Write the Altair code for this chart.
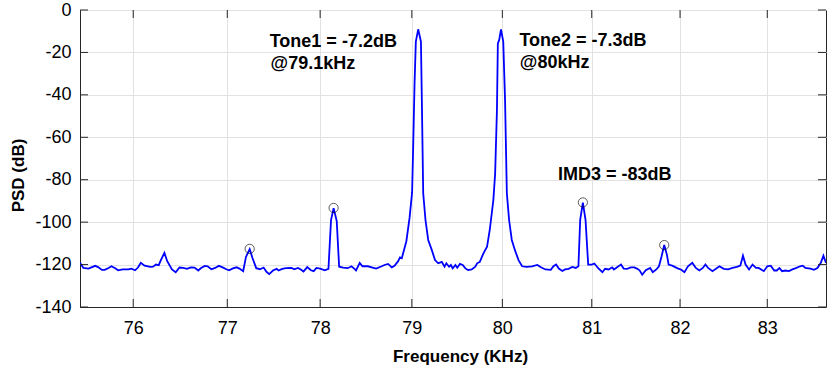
import altair as alt
import pandas as pd

# ---- data ----
freq = [75.44, 75.476, 75.53, 75.56, 75.60, 75.63, 75.67, 75.70, 75.74, 75.77,
        75.81, 75.84, 75.89, 75.95, 75.98, 76.02, 76.05, 76.08, 76.12, 76.18,
        76.21, 76.24, 76.27, 76.29, 76.33, 76.36, 76.41, 76.45, 76.49, 76.53,
        76.57, 76.61, 76.65, 76.69, 76.72, 76.76, 76.79, 76.83, 76.87, 76.91,
        76.95, 76.99, 77.02, 77.06, 77.10, 77.13, 77.17, 77.20, 77.24, 77.27,
        77.31, 77.35, 77.39, 77.42, 77.45, 77.49, 77.53, 77.55, 77.59, 77.63,
        77.69, 77.72, 77.76, 77.79, 77.82, 77.86, 77.90, 77.93, 77.96, 78.00,
        78.05, 78.09, 78.118, 78.146, 78.18, 78.206, 78.25, 78.30, 78.34, 78.37,
        78.39, 78.43, 78.46, 78.52, 78.57, 78.61, 78.67, 78.70, 78.74, 78.78,
        78.81, 78.85, 78.87, 78.89, 78.94, 78.975, 79.003, 79.014, 79.03, 79.044,
        79.07, 79.10, 79.11, 79.125, 79.15, 79.18, 79.22, 79.255, 79.29, 79.33,
        79.36, 79.38, 79.41, 79.43, 79.45, 79.48, 79.50, 79.53, 79.56, 79.59,
        79.62, 79.66, 79.70, 79.72, 79.75, 79.79, 79.83, 79.86, 79.90, 79.92,
        79.94, 79.95, 79.965, 79.985, 80.01, 80.03, 80.05, 80.075, 80.105, 80.14,
        80.18, 80.22, 80.27, 80.33, 80.39, 80.43, 80.48, 80.54, 80.57, 80.60,
        80.63, 80.67, 80.70, 80.74, 80.78, 80.82, 80.85, 80.87, 80.90, 80.93,
        80.96, 81.00, 81.03, 81.07, 81.12, 81.15, 81.19, 81.23, 81.25, 81.29,
        81.31, 81.33, 81.36, 81.40, 81.44, 81.48, 81.51, 81.54, 81.57, 81.61,
        81.66, 81.69, 81.73, 81.76, 81.79, 81.82, 81.85, 81.87, 81.91, 81.95,
        81.98, 82.01, 82.05, 82.09, 82.14, 82.18, 82.22, 82.26, 82.29, 82.32,
        82.37, 82.41, 82.45, 82.50, 82.55, 82.60, 82.65, 82.69, 82.72, 82.75,
        82.79, 82.83, 82.87, 82.90, 82.96, 83.00, 83.04, 83.08, 83.11, 83.14,
        83.17, 83.21, 83.25, 83.29, 83.33, 83.38, 83.41, 83.44, 83.50, 83.54,
        83.58, 83.62, 83.65, 83.68]

psd = [-119.2, -121.6, -121.9, -121.3, -120.6, -121.2, -122.5, -122.5, -121.6, -120.8,
       -121.7, -122.7, -122.3, -122.3, -121.9, -122.7, -121.4, -119.2, -120.5, -121.1,
       -121.0, -120.0, -120.3, -118.1, -114.5, -118.4, -122.3, -123.6, -121.4, -121.6,
       -122.0, -121.3, -121.4, -122.8, -121.6, -120.6, -120.8, -122.2, -121.6, -120.6,
       -121.3, -122.2, -122.7, -121.8, -121.3, -121.9, -123.1, -116.4, -112.7, -116.9,
       -121.7, -122.2, -121.4, -123.4, -124.5, -122.8, -122.0, -122.8, -122.0, -121.7,
       -121.6, -122.2, -121.6, -122.3, -123.3, -121.2, -122.7, -123.1, -121.6, -121.9,
       -122.7, -122.0, -99.0, -93.4, -99.5, -121.0, -121.4, -121.7, -120.8, -121.9,
       -122.8, -119.2, -120.8, -120.8, -121.4, -121.9, -120.8, -120.2, -119.7, -121.3,
       -120.6, -118.4, -116.6, -117.0, -109.0, -98.0, -86.0, -66.0, -34.5, -14.9,
       -9.1, -14.9, -42.4, -86.4, -99.0, -108.4, -113.2, -117.9, -119.4, -118.7,
       -121.0, -119.4, -121.0, -120.2, -121.8, -120.2, -121.5, -119.7, -120.2, -121.8,
       -122.6, -122.3, -121.0, -119.4, -118.7, -114.7, -111.6, -103.7, -89.6, -77.0,
       -47.0, -15.7, -14.1, -9.1, -14.9, -42.4, -86.4, -99.0, -108.4, -113.2,
       -117.9, -120.8, -121.1, -120.8, -120.2, -121.3, -122.3, -122.5, -120.8, -120.0,
       -121.9, -123.0, -122.3, -122.0, -121.1, -121.6, -120.8, -98.9, -90.8, -98.9,
       -120.0, -120.0, -119.5, -121.6, -123.6, -122.0, -122.3, -121.3, -122.3, -121.1,
       -120.5, -120.0, -121.9, -122.0, -121.3, -121.3, -121.9, -122.7, -124.8, -122.7,
       -121.6, -123.6, -122.3, -120.8, -116.1, -110.8, -115.3, -120.0, -120.5, -121.3,
       -121.9, -122.3, -123.6, -120.8, -119.2, -121.6, -122.8, -121.6, -120.0, -121.6,
       -123.1, -122.0, -120.8, -122.0, -122.3, -121.6, -121.1, -120.5, -115.8, -120.0,
       -122.3, -120.0, -121.6, -121.6, -123.1, -120.8, -120.5, -122.8, -122.8, -121.6,
       -123.1, -122.8, -123.1, -122.3, -121.7, -120.8, -120.5, -121.6, -121.9, -122.5,
       -121.6, -119.2, -115.8, -119.2]

mark_freq = [77.24, 78.146, 80.90, 81.82]
mark_psd = [-112.6, -93.3, -90.7, -110.8]

ann_text = ["Tone1 = -7.2dB", "@79.1kHz", "Tone2 = -7.3dB", "@80kHz", "IMD3 = -83dB"]
ann_freq = [77.455, 77.465, 80.19, 80.195, 80.62]
ann_psd = [-17.4, -27.6, -17.0, -27.2, -80.2]

x_ticks = [76, 77, 78, 79, 80, 81, 82, 83]
y_ticks = [-140, -120, -100, -80, -60, -40, -20, 0]

# ---- chart ----
W, H = 746, 297
FONT = "Liberation Sans"
INK = "#262626"

df = pd.DataFrame({"f": freq, "p": psd})
dm = pd.DataFrame({"f": mark_freq, "p": mark_psd})
da = pd.DataFrame({"t": ann_text, "f": ann_freq, "p": ann_psd})
dxt = pd.DataFrame({"f": x_ticks})
dyt = pd.DataFrame({"p": y_ticks})

xscale = alt.Scale(type="log", domain=[75.44, 83.68], nice=False, zero=False)
yscale = alt.Scale(domain=[-140, 0], nice=False, zero=False)

xaxis = alt.Axis(values=x_ticks, title="Frequency (KHz)", labelExpr="datum.value + ''",
                 labelPadding=12, titlePadding=11, titleX=380)
yaxis = alt.Axis(values=y_ticks, title="PSD (dB)", labelExpr="datum.value + ''",
                 labelPadding=9, titlePadding=7, titleY=165)


def X():
    return alt.X("f:Q", scale=xscale, axis=xaxis)


def Y():
    return alt.Y("p:Q", scale=yscale, axis=yaxis)


line = alt.Chart(df).mark_line(color="#0000FF", strokeWidth=1.8, clip=True).encode(x=X(), y=Y())

circles = alt.Chart(dm).mark_point(shape="circle", filled=False, color="black",
                                   size=85, strokeWidth=0.9).encode(x=X(), y=Y())

texts = alt.Chart(da).mark_text(align="left", baseline="alphabetic", font=FONT,
                                fontSize=18, fontWeight="bold", color="black").encode(
    x=X(), y=Y(), text="t:N")

tick_len = 8
xt_bottom = alt.Chart(dxt).mark_rule(color=INK, strokeWidth=1).encode(
    x=X(), y=alt.value(H), y2=alt.value(H - tick_len))
xt_top = alt.Chart(dxt).mark_rule(color=INK, strokeWidth=1).encode(
    x=X(), y=alt.value(0), y2=alt.value(tick_len))
yt_left = alt.Chart(dyt).mark_rule(color=INK, strokeWidth=1).encode(
    y=Y(), x=alt.value(0), x2=alt.value(tick_len))
yt_right = alt.Chart(dyt).mark_rule(color=INK, strokeWidth=1).encode(
    y=Y(), x=alt.value(W), x2=alt.value(W - tick_len))

chart = alt.layer(line, xt_bottom, xt_top, yt_left, yt_right, circles, texts).properties(
    width=W, height=H,
    padding={"left": 80, "top": 10, "right": 1, "bottom": 68},
    autosize=alt.AutoSizeParams(type="none"),
).configure_view(
    stroke=INK, strokeWidth=1
).configure_axis(
    labelFont=FONT, labelFontSize=18, labelColor="black",
    titleFont=FONT, titleFontSize=17, titleFontWeight="bold", titleColor="black",
    grid=True, gridColor="#e2e2e2", gridWidth=1,
    domainColor=INK, domainWidth=1, tickSize=0,
)

chart.save("out.html", embed_options={"renderer": "svg", "actions": False})
